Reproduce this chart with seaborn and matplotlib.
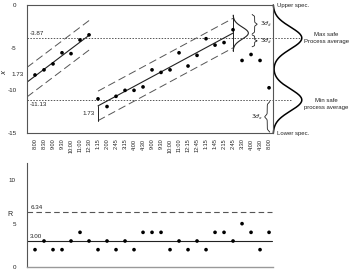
import numpy as np
import pandas as pd
import matplotlib
matplotlib.use("Agg")
import matplotlib.pyplot as plt
import seaborn as sns

# ---------------- data ----------------
times = ["8:00", "8:30", "9:00", "9:30", "10:00", "11:00", "12:30", "1:15", "2:00",
         "2:45", "3:15", "4:00", "4:30", "9:00", "9:30", "10:00", "11:00", "12:15",
         "12:45", "1:15", "1:45", "2:15", "2:45", "3:30", "4:00", "4:30", "8:00"]
xbar = [-8.2, -7.6, -6.9, -5.6, -5.7, -4.1, -3.5,
        -11.0, -11.9, -10.7, -10.0, -10.0, -9.6, -7.6, -7.9, -7.6, -5.6, -7.15,
        -5.9, -3.95, -4.7, -4.4, -2.9,
        -6.5, -5.8, -6.5, -9.7]
ranges = [2, 3, 2, 2, 3, 4, 3, 2, 3, 2, 3, 2, 4, 4, 4, 2, 3, 2, 3, 2, 4, 4, 3, 5, 4, 2, 4]
seg1_idx = list(range(0, 7))
seg2_idx = list(range(7, 23))
upper_spec, lower_spec = 0.0, -15.0
max_safe, min_safe = -3.87, -11.13
band = 1.73
r_bar, r_ucl = 3.00, 6.34

sns.set_style("white")
plt.rcParams["font.family"] = ["Liberation Sans", "DejaVu Sans"]
plt.rcParams["mathtext.fontset"] = "dejavusans"

DARK = "#222222"
GRAY = "#555555"
fig = plt.figure(figsize=(3.5, 2.69), dpi=100)
ax = fig.add_axes([27 / 350, 136 / 269, 246 / 350, 128 / 269])
ax2 = fig.add_axes([27 / 350, 2 / 269, 246 / 350, 104 / 269])

n = len(times)
pos = np.arange(n)
df = pd.DataFrame({"pos": pos, "xbar": xbar, "R": ranges})
xlim = (-0.89, 26.44)

# ---------------- top chart ----------------
ax.set_xlim(*xlim)
ax.set_ylim(lower_spec, upper_spec)

for line_y in (max_safe, min_safe):
    ax.plot([xlim[0], 29.5 if line_y == max_safe else 28.5], [line_y, line_y],
            color=GRAY, lw=0.7, ls=(0, (1.5, 1.5)), clip_on=False)

def fit_segment(idx, x0, x1):
    xs = np.array([pos[i] for i in idx], dtype=float)
    ys = np.array([xbar[i] for i in idx], dtype=float)
    m, b = np.polyfit(xs, ys, 1)
    xx = np.array([x0, x1])
    return xx, m * xx + b

seg_lines = [fit_segment(seg1_idx, xlim[0], 6.1), fit_segment(seg2_idx, 7.0, 22.0)]
for xx, yy in seg_lines:
    sns.lineplot(x=xx, y=yy, ax=ax, color=DARK, lw=0.8, legend=False)
    for off in (band, -band):
        sns.lineplot(x=xx, y=yy + off, ax=ax, color=GRAY, lw=0.7,
                     dashes=False, legend=False, linestyle=(0, (8, 4)))

sns.scatterplot(data=df, x="pos", y="xbar", ax=ax, color="black", s=7,
                edgecolor="none", zorder=5, legend=False)

# brackets for 1.73
xx1, yy1 = seg_lines[0]
ax.text(xlim[0] - 0.35, yy1[0] + band / 2, "1.73", ha="right", va="center",
        fontsize=4.5, color=DARK, clip_on=False)
xx2, yy2 = seg_lines[1]
ax.plot([xx2[0], xx2[0]], [yy2[0], yy2[0] - band], color=DARK, lw=0.7)
ax.text(xx2[0] - 0.4, yy2[0] - band / 2, "1.73", ha="right", va="center",
        fontsize=4.5, color=DARK)

# small distribution at the end of second run
m_end = yy2[1]
ax.plot([xx2[1], xx2[1]], [m_end - 2.1, m_end + 2.1], color=DARK, lw=0.7)
ys = np.linspace(m_end - 2.1, m_end + 2.1, 100)
ax.plot(xx2[1] + 1.7 * np.exp(-(ys - m_end) ** 2 / (2 * 0.7 ** 2)), ys,
        color=DARK, lw=0.8)

def brace(axis, x, y0, y1, w, **kw):
    t = np.linspace(0, 1, 200)
    u = np.where(t < 0.5, t / 0.5, (1 - t) / 0.5)
    k, a = 25, 0.1
    f = 0.5 * (1 / (1 + np.exp(-k * (u - a))) + 1 / (1 + np.exp(-k * (u - (1 - a)))))
    axis.plot(x + w * f, y0 + (y1 - y0) * t, color=DARK, lw=0.6, **kw)

brace(ax, 24.1, -1.1, -3.4, 0.6)
brace(ax, 24.1, -3.5, -4.9, 0.6)
brace(ax, 26.1, -11.3, -14.9, -0.6, clip_on=False)
sig_lbl = r"$3\hat{\sigma}_{\bar{x}}$"
ax.text(25.0, -2.25, sig_lbl, fontsize=4.5, color=DARK, va="center", ha="left")
ax.text(25.0, -4.2, sig_lbl, fontsize=4.5, color=DARK, va="center", ha="left")
ax.text(25.4, -13.2, r"$3\hat{\sigma}_x$", fontsize=4.5, color=DARK,
        va="center", ha="right")

# process distribution outside the axes
sig = (upper_spec - max_safe) / 3
yy = np.linspace(lower_spec, upper_spec, 300)
g = np.exp(-(yy - max_safe) ** 2 / (2 * sig ** 2)) + np.exp(-(yy - min_safe) ** 2 / (2 * sig ** 2))
ax.plot(xlim[1] + 3.2 * g, yy, color="black", lw=1.1, clip_on=False)

ax.text(26.9, upper_spec, "Upper spec.", fontsize=4.3, color=DARK, va="center",
        ha="left", clip_on=False)
ax.text(26.9, lower_spec, "Lower spec.", fontsize=4.3, color=DARK, va="center",
        ha="left", clip_on=False)
ax.text(32.4, max_safe, "Max safe\nProcess average", fontsize=4.3, color=DARK,
        va="center", ha="center", linespacing=1.5, clip_on=False)
ax.text(32.4, -11.55, "Min safe\nprocess average", fontsize=4.3, color=DARK,
        va="center", ha="center", linespacing=1.5, clip_on=False)

ax.text(xlim[0] + 0.35, max_safe + 0.25, "-3.87", fontsize=4.5, color=DARK,
        va="bottom", ha="left")
ax.text(xlim[0] + 0.35, min_safe - 0.25, "-11.13", fontsize=4.5, color=DARK,
        va="top", ha="left")

ax.set_xticks(pos)
ax.set_xticklabels(times, rotation=90, fontsize=4)
ax.set_yticks([0, -5, -10, -15])
ax.set_yticklabels(["0", "-5", "-10", "-15"], fontsize=4.5)
ax.tick_params(axis="both", direction="out", length=2.5, width=0.6, colors=GRAY,
               labelcolor=DARK, pad=1.5)
ax.tick_params(axis="y", pad=5)
ax.set_xlabel("")
ax.set_ylabel("")
for s in ax.spines.values():
    s.set_color(GRAY)
    s.set_linewidth(0.8)
fig.text(4 / 350, 1 - 72 / 269, r"$\bar{x}$", rotation=90, fontsize=5,
         color=DARK, ha="center", va="center")

# ---------------- bottom chart ----------------
ax2.set_xlim(*xlim)
ax2.set_ylim(0, 12)
ax2.axhline(r_bar, xmin=0, xmax=(26.3 - xlim[0]) / (xlim[1] - xlim[0]),
            color=DARK, lw=0.8)
ax2.axhline(r_ucl, xmin=0, xmax=(26.3 - xlim[0]) / (xlim[1] - xlim[0]),
            color=GRAY, lw=0.8, ls=(0, (5, 3)))
sns.scatterplot(data=df, x="pos", y="R", ax=ax2, color="black", s=7,
                edgecolor="none", zorder=5, legend=False)
ax2.text(xlim[0] + 0.35, r_bar + 0.2, "3.00", fontsize=4.5, color=DARK,
         va="bottom", ha="left")
ax2.text(xlim[0] + 0.35, r_ucl + 0.2, "6.34", fontsize=4.5, color=DARK,
         va="bottom", ha="left")
ax2.set_xticks([])
ax2.set_yticks([0, 5, 10])
ax2.set_yticklabels(["0", "5", "10"], fontsize=4.5)
ax2.tick_params(axis="y", direction="out", length=3, width=0.6, colors=GRAY,
                labelcolor=DARK, pad=5)
ax2.set_xlabel("")
ax2.set_ylabel("")
ax2.spines["top"].set_visible(False)
ax2.spines["right"].set_visible(False)
ax2.spines["left"].set_color(GRAY)
ax2.spines["left"].set_linewidth(0.8)
ax2.spines["bottom"].set_color("#999999")
ax2.spines["bottom"].set_linewidth(1.0)
fig.text(10 / 350, 1 - 214 / 269, "R", fontsize=5, color=DARK,
         ha="center", va="center")

fig.savefig("out.png", dpi=100)
